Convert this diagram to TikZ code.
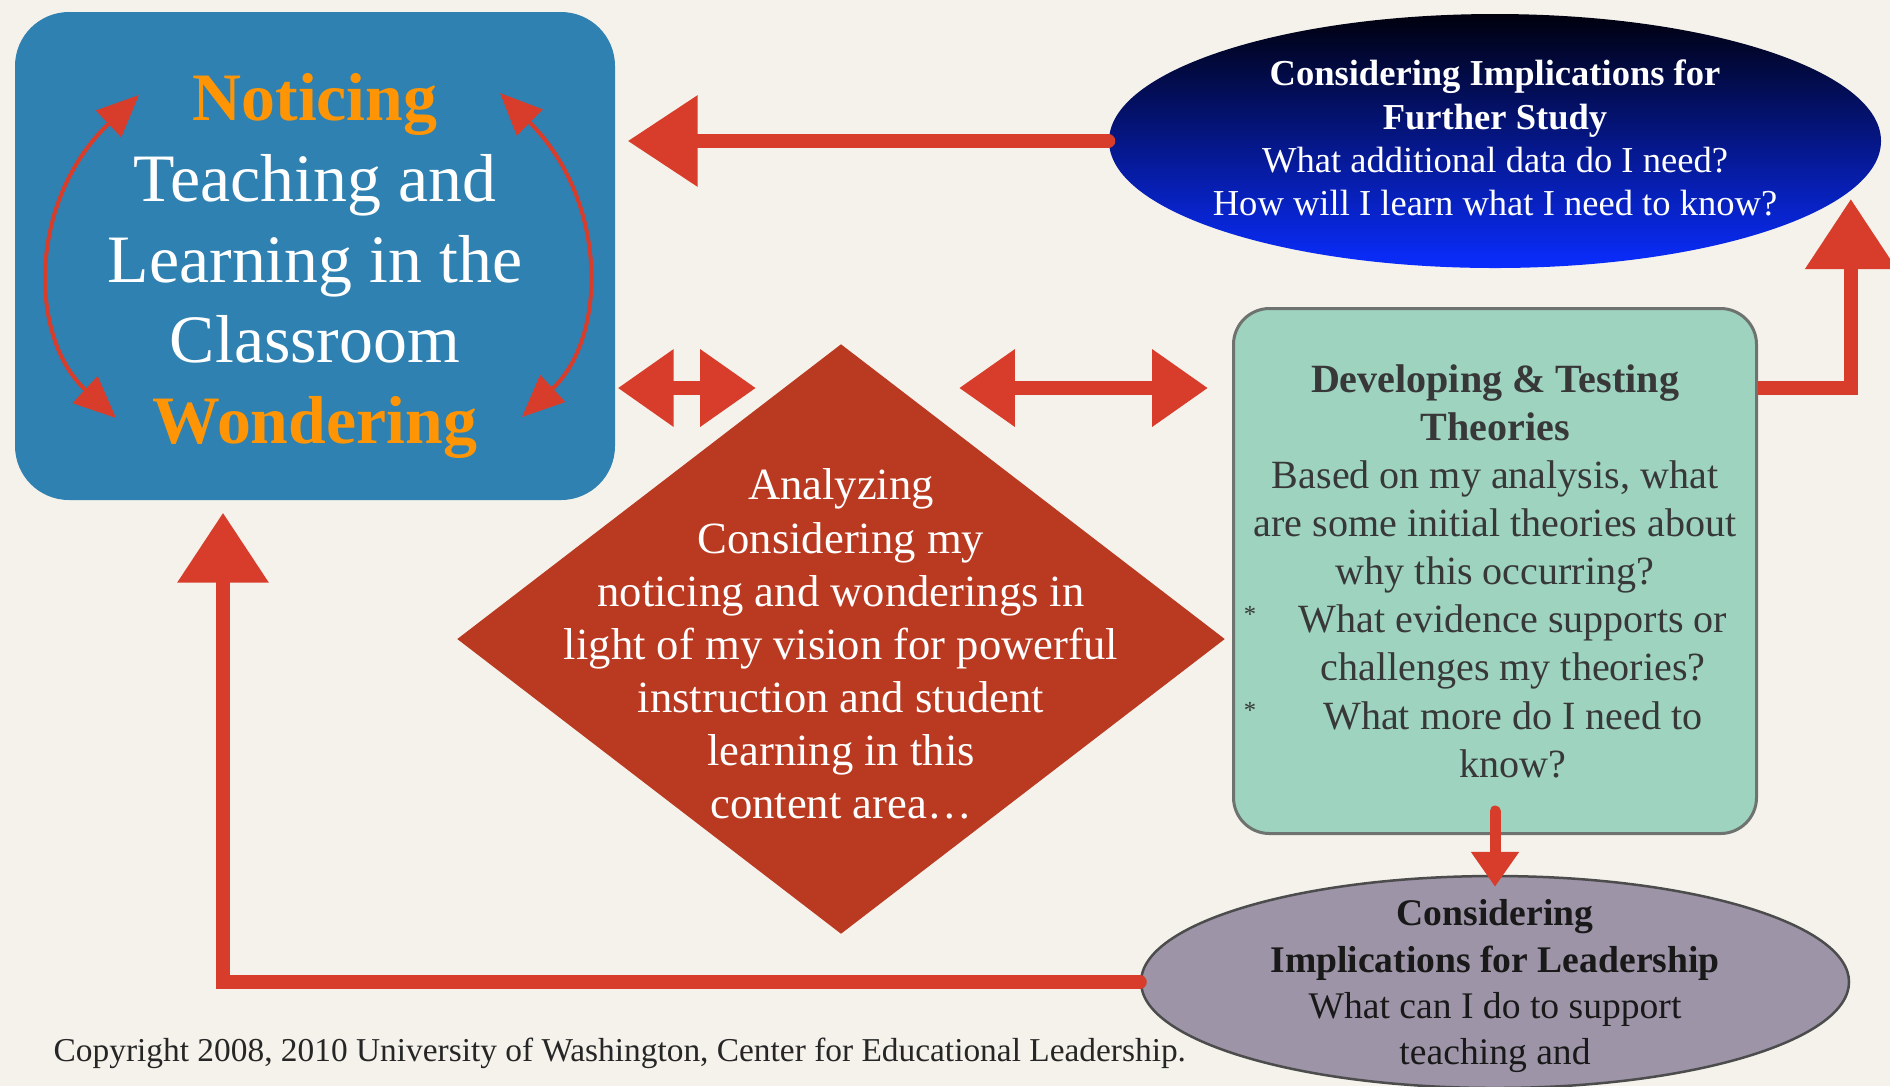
\documentclass[tikz,border=0pt]{standalone}
\usepackage{fontspec}
\setmainfont{Liberation Serif}
\usetikzlibrary{shapes.geometric,arrows.meta}

\definecolor{paper}{HTML}{F4F2EB}
\definecolor{boxblue}{HTML}{2E81B1}
\definecolor{noticeorange}{HTML}{FF9505}
\definecolor{arrowred}{HTML}{D83D2B}
\definecolor{diamondred}{HTML}{B93921}
\definecolor{theorygreen}{HTML}{9DD3BF}
\definecolor{theoryedge}{HTML}{6E7370}
\definecolor{leaderlilac}{HTML}{9D94A8}
\definecolor{studyblue}{HTML}{0A2DFF}

\tikzset{
  bluebox/.style={rectangle, rounded corners=5.4mm, fill=boxblue,
    minimum width=60mm, minimum height=48.8mm},
  bluetext/.style={align=center, text=white, font=\fontsize{19.3}{23}\selectfont},
  studyoval/.style={ellipse, inner sep=0pt, minimum width=77.2mm,
    minimum height=25.4mm, top color=black!95!blue, bottom color=studyblue},
  studytext/.style={align=center, text=white, font=\fontsize{10.4}{12.3}\selectfont},
  theorybox/.style={rectangle, rounded corners=3.6mm, fill=theorygreen,
    draw=theoryedge, line width=0.3mm, minimum width=52.3mm, minimum height=52.5mm,
    align=center, text=black!78, font=\fontsize{11.4}{13.7}\selectfont},
  bulletmark/.style={text=black!78, font=\fontsize{7}{8}\selectfont, inner sep=0pt},
  analyzediamond/.style={diamond, inner sep=0pt, fill=diamondred,
    minimum width=76.8mm, minimum height=59mm},
  analyzetext/.style={align=center, text=white, font=\fontsize{12.7}{15.1}\selectfont},
  leaderoval/.style={ellipse, inner sep=0pt, fill=leaderlilac, draw=black!70,
    line width=0.25mm, minimum width=70.8mm, minimum height=21.2mm},
  leadertext/.style={align=center, text=black!90, font=\fontsize{10.7}{13.1}\selectfont},
  copytext/.style={text=black!85, inner sep=0pt, font=\fontsize{9.5}{10}\selectfont},
  bigarrow/.style={draw=arrowred, line width=1.4mm, line cap=round,
    -{Triangle[length=7mm,width=8.8mm]}},
  twinarrow/.style={draw=arrowred, line width=1.4mm,
    {Triangle[length=5.6mm,width=7.4mm]}-{Triangle[length=5.6mm,width=7.4mm]}},
  thinarrow/.style={draw=arrowred, line width=1.1mm, line cap=round,
    -{Triangle[length=3.5mm,width=4.6mm]}},
  looparrow/.style={draw=arrowred, line width=0.4mm,
    {Triangle[length=4.2mm,width=3.6mm]}-{Triangle[length=4.2mm,width=3.6mm]}}
}

\begin{document}
\begin{tikzpicture}[x=0.1mm, y=-0.1mm]
  \fill[paper] (0,0) rectangle (1890,1086);
  \useasboundingbox (0,0) rectangle (1890,1086);

  % the five stages
  \node[bluebox] (class) at (315,256) {};
  \node[bluetext] (classtxt) at (315,266)
    {{\bfseries\color{noticeorange}Noticing}\\Teaching and\\Learning in the\\Classroom\\{\bfseries\color{noticeorange}Wondering}};
  \node[studyoval] (study) at (1495,141) {};
  \node[studytext] (studytxt) at (1495,138)
    {\textbf{Considering Implications for}\\\textbf{Further Study}\\What additional data do I need?\\How will I learn what I need to know?};
  \node[analyzediamond] (analyze) at (841,639) {};
  \node[analyzetext] (analyzetxt) at (841,644)
    {Analyzing\\Considering my\\noticing and wonderings in\\light of my vision for powerful\\instruction and student\\learning in this\\content area\ldots};
  \node[theorybox] (theory) at (1495,571)
    {\textbf{Developing \& Testing}\\\textbf{Theories}\\Based on my analysis, what\\are some initial theories about\\why this occurring?\\
     \hspace*{3.6mm}What evidence supports or\\\hspace*{3.6mm}challenges my theories?\\
     \hspace*{3.6mm}What more do I need to\\\hspace*{3.6mm}know?};
  \node[bulletmark] (bulA) at (1250,614) {*};
  \node[bulletmark] (bulB) at (1250,710) {*};
  \node[leaderoval] (leader) at (1495,982) {};
  \node[leadertext] (leadertxt) at (1495,986)
    {\textbf{Considering}\\\textbf{Implications for Leadership}\\What can I do to support\\teaching and};
  \node[copytext, anchor=base west] (copy) at (53,1061)
    {Copyright 2008, 2010 University of Washington, Center for Educational Leadership.};

  % noticing <-> wondering
  \draw[looparrow] (139,95) .. controls (28,200) and (28,337) .. (116,418);
  \draw[looparrow] (500,93) .. controls (608,200) and (608,337) .. (522,417);

  % connectors
  \coordinate (lvl) at (0,388);
  \draw[bigarrow, shorten >=1.2mm] (study.west) -- (study.west -| class.east);
  \draw[twinarrow, shorten <=0.2mm, shorten >=2.7mm] (class.east |- lvl) -- (analyze.103 |- lvl);
  \draw[twinarrow, shorten <=6mm, shorten >=2.4mm] (analyze.77 |- lvl) -- (theory.west |- lvl);
  \draw[bigarrow, line cap=butt, shorten >=0.8mm] (theory.east |- lvl) -| (study.-8);
  \draw[thinarrow, shorten <=-2.4mm, shorten >=-1.2mm] (theory.south) -- (leader.north);
  \draw[bigarrow, shorten >=1.2mm] (leader.west) -| ([xshift=-9.2mm]class.south);
\end{tikzpicture}
\end{document}
